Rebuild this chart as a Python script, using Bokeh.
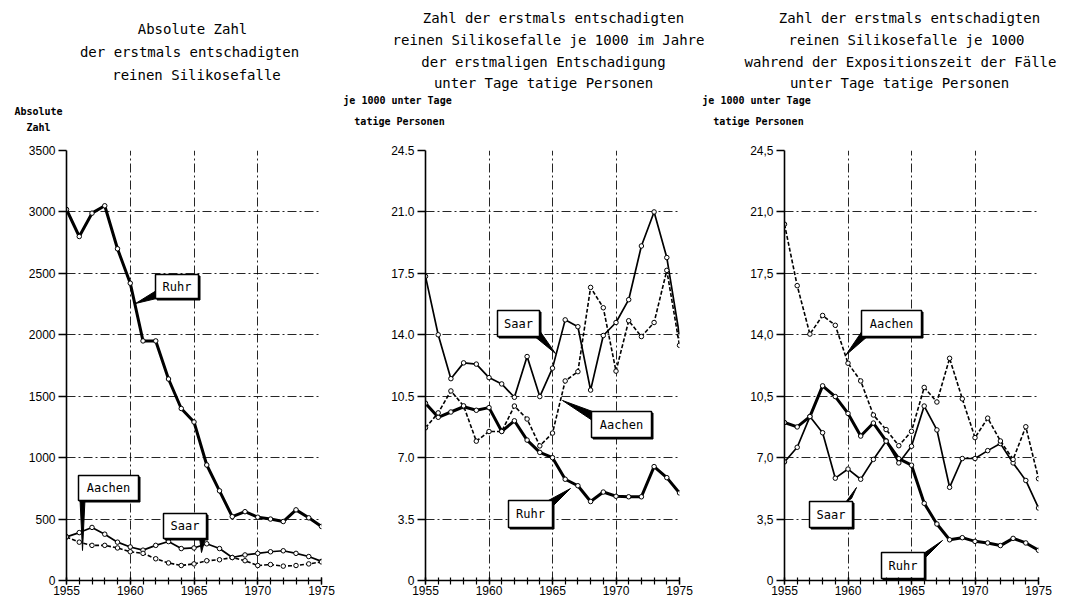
from bokeh.plotting import figure
from bokeh.models import Range1d, FixedTicker
from bokeh.layouts import row, column
from bokeh.embed import file_html
from bokeh.resources import INLINE
from bokeh.core.properties import value

# ---------------- data ----------------
years = list(range(1955, 1976))
x_major = [1955, 1960, 1965, 1970, 1975]

abs_ticks = [0, 500, 1000, 1500, 2000, 2500, 3000, 3500]
abs_tick_labels = ["0", "500", "1000", "1500", "2000", "2500", "3000", "3500"]
rate_ticks = [0, 3.5, 7.0, 10.5, 14.0, 17.5, 21.0, 24.5]
rate_tick_labels_dot = ["0", "3.5", "7.0", "10.5", "14.0", "17.5", "21.0", "24.5"]
rate_tick_labels_comma = ["0", "3,5", "7,0", "10,5", "14,0", "17,5", "21,0", "24,5"]

# Panel 1: absolute number of first-compensated pure silicosis cases
abs_ruhr = [3020, 2800, 2990, 3050, 2700, 2420, 1950, 1950, 1640, 1400, 1290,
            940, 730, 520, 560, 515, 500, 480, 575, 510, 440]
abs_saar = [355, 390, 432, 377, 312, 273, 247, 286, 317, 260, 265,
            299, 260, 187, 208, 221, 234, 242, 221, 195, 156]
abs_aachen = [355, 312, 286, 286, 265, 234, 221, 177, 143, 122, 135,
              161, 169, 187, 161, 122, 130, 117, 122, 135, 151]

# Panel 2: per 1000 underground workers in year of first compensation
rate_ruhr = [10.1, 9.3, 9.6, 9.9, 9.7, 9.85, 8.5, 9.1, 8.0, 7.3, 7.0,
             5.77, 5.4, 4.5, 5.04, 4.8, 4.77, 4.77, 6.49, 5.86, 4.99]
rate_saar = [17.33, 14.0, 11.5, 12.4, 12.33, 11.56, 11.2, 10.44, 12.76, 10.48, 12.1,
             14.85, 14.46, 10.85, 13.96, 14.7, 16.0, 19.06, 21.0, 18.4, 13.96]
rate_aachen = [8.7, 9.55, 10.8, 9.95, 7.94, 8.49, 8.49, 9.94, 9.2, 7.67, 8.4,
               11.37, 11.9, 16.7, 15.54, 11.93, 14.8, 13.9, 14.7, 17.67, 13.4]

# Panel 3: per 1000 underground workers during exposure time
exp_ruhr = [9.0, 8.75, 9.34, 11.09, 10.48, 9.52, 8.23, 8.97, 7.96, 6.94, 6.57,
            4.4, 3.22, 2.32, 2.44, 2.23, 2.14, 1.99, 2.4, 2.14, 1.72]
exp_saar = [6.76, 7.59, 9.34, 8.42, 5.83, 6.35, 5.77, 6.9, 7.94, 6.7, 7.65,
            9.94, 8.58, 5.31, 6.95, 6.95, 7.4, 7.8, 6.7, 5.7, 4.13]
exp_aachen = [20.3, 16.8, 14.04, 15.1, 14.54, 12.38, 11.37, 9.43, 8.6, 7.68, 8.5,
              11.0, 10.17, 12.66, 10.35, 8.14, 9.25, 7.95, 6.9, 8.76, 5.8]

series_names = ["Ruhr", "Saar", "Aachen"]

titles_1 = ["Absolute Zahl", "der erstmals entschadigten", "reinen Silikosefalle"]
titles_2 = ["Zahl der erstmals entschadigten", "reinen Silikosefalle je 1000 im Jahre",
            "der erstmaligen Entschadigung", "unter Tage tatige Personen"]
titles_3 = ["Zahl der erstmals entschadigten", "reinen Silikosefalle je 1000",
            "wahrend der Expositionszeit der Fälle", "unter Tage tatige Personen"]
unit_1 = ["Absolute", "Zahl"]
unit_23 = ["je 1000 unter Tage", "tatige Personen"]

# ---------------- styling / layout ----------------
STYLE = {
    "Ruhr": dict(line_width=3.0, line_dash="solid"),
    "Saar": dict(line_width=1.7, line_dash="solid"),
    "Aachen": dict(line_width=1.6, line_dash="4 2"),
}
MONO = "DejaVu Sans Mono"
SANS = "Liberation Sans"
TOTAL_W = 1058
HEAD_H = 140
PANEL_H = 459
BORDER_TOP = 10
BORDER_BOTTOM = 19

# ---------------- header (titles and unit captions) ----------------
head = figure(width=TOTAL_W, height=HEAD_H, output_backend="svg", toolbar_location=None,
              x_range=Range1d(0, TOTAL_W), y_range=Range1d(HEAD_H, 0),
              x_axis_type=None, y_axis_type=None,
              min_border_left=0, min_border_right=0, min_border_top=0, min_border_bottom=0)
head.outline_line_color = None
head.grid.visible = False

title_blocks = [
    (titles_1, [192, 189, 196], [28, 51, 74]),
    (titles_2, [553, 548, 543, 543], [17, 39, 61, 82]),
    (titles_3, [909, 906, 900, 899], [17, 39, 61, 82]),
]
for lines, xs, ys in title_blocks:
    head.text(x=xs, y=ys, text=lines, text_font=value(MONO), text_font_size="14px",
              text_color="black", text_align="center", text_baseline="middle")

unit_blocks = [
    (unit_1, [38, 38], [111, 127]),
    (unit_23, [397, 399], [100, 121]),
    (unit_23, [756, 758], [100, 121]),
]
for lines, xs, ys in unit_blocks:
    head.text(x=xs, y=ys, text=lines, text_font=value(MONO), text_font_size="10px",
              text_font_style="bold", text_color="black", text_align="center",
              text_baseline="middle")


def make_panel(fig_left, width, bl, frame_w, ymax, yticks, ylabels, series, callouts):
    br = width - bl - frame_w
    p = figure(width=width, height=PANEL_H, output_backend="svg", toolbar_location=None,
               x_range=Range1d(1955, 1975), y_range=Range1d(0, ymax),
               min_border_left=bl, min_border_right=br,
               min_border_top=BORDER_TOP, min_border_bottom=BORDER_BOTTOM)
    p.outline_line_color = None

    # picture-pixel -> data conversion for the callout boxes
    L = fig_left + bl
    R = L + frame_w
    T = HEAD_H + BORDER_TOP
    B = HEAD_H + PANEL_H - BORDER_BOTTOM

    def dx(xi):
        return 1955 + (xi - L) / (R - L) * 20.0

    def dy(yi):
        return (B - yi) / (B - T) * ymax

    p.xaxis.ticker = FixedTicker(ticks=x_major, minor_ticks=years)
    p.yaxis.ticker = FixedTicker(ticks=yticks)
    p.yaxis.major_label_overrides = {t: l for t, l in zip(yticks, ylabels)}
    for ax in (p.xaxis[0], p.yaxis[0]):
        ax.axis_line_color = "black"
        ax.axis_line_width = 1.6
        ax.major_tick_line_color = "black"
        ax.major_tick_line_width = 1.4
        ax.minor_tick_line_color = "black"
        ax.minor_tick_line_width = 1.2
        ax.major_label_text_color = "black"
        ax.major_label_text_font = SANS
        ax.major_label_text_font_size = "12px"
    p.xaxis.major_tick_in = 3
    p.xaxis.major_tick_out = 4
    p.xaxis.minor_tick_in = 3
    p.xaxis.minor_tick_out = 4
    p.xaxis.major_label_standoff = 1
    p.yaxis.major_tick_in = 0
    p.yaxis.major_tick_out = 8
    p.yaxis.minor_tick_line_color = None
    p.yaxis.major_label_standoff = 3

    for g in (p.xgrid[0], p.ygrid[0]):
        g.grid_line_color = "black"
        g.grid_line_width = 1
        g.grid_line_dash = "9 3 2 3"
        g.grid_line_alpha = 0.85
    p.xgrid.ticker = FixedTicker(ticks=x_major)

    for name in series_names:
        vals = series[name]
        st = STYLE[name]
        p.line(years, vals, line_color="black", line_width=st["line_width"],
               line_dash=st["line_dash"])
        p.scatter(years, vals, size=4.5, fill_color="white", line_color="black",
                  line_width=1)

    for name, box, tail in callouts:
        x0, y0, x1, y1 = box
        p.patch([dx(a) for a, b in tail], [dy(b) for a, b in tail],
                fill_color="black", line_color="black", line_width=1)
        p.quad(left=[dx(x0 + 1.5)], right=[dx(x1 + 1.5)], top=[dy(y0 + 1.5)],
               bottom=[dy(y1 + 1.5)], fill_color="black", line_color="black")
        p.quad(left=[dx(x0)], right=[dx(x1)], top=[dy(y0)], bottom=[dy(y1)],
               fill_color="white", line_color="black", line_width=1.5)
        p.text(x=[dx((x0 + x1) / 2)], y=[dy((y0 + y1) / 2)], text=[name],
               text_font=value(MONO), text_font_size="12px", text_color="black",
               text_align="center", text_baseline="middle")
    return p


p1 = make_panel(
    fig_left=0, width=340, bl=66, frame_w=255, ymax=3500,
    yticks=abs_ticks, ylabels=abs_tick_labels,
    series={"Ruhr": abs_ruhr, "Saar": abs_saar, "Aachen": abs_aachen},
    callouts=[
        ("Ruhr", (155, 274, 198, 298), [(156, 290), (156, 298), (135, 303)]),
        ("Aachen", (78, 475, 138, 500), [(79.5, 499), (84.5, 499), (82, 550)]),
        ("Saar", (163, 513, 206, 538), [(199, 537), (205, 537), (201, 552)]),
    ])

p2 = make_panel(
    fig_left=340, width=360, bl=85, frame_w=254, ymax=24.5,
    yticks=rate_ticks, ylabels=rate_tick_labels_dot,
    series={"Ruhr": rate_ruhr, "Saar": rate_saar, "Aachen": rate_aachen},
    callouts=[
        ("Saar", (497, 310, 539, 336), [(533, 335), (539, 330), (555, 353)]),
        ("Aachen", (591, 411, 651, 437), [(592, 411), (592, 420), (562, 400)]),
        ("Ruhr", (508, 500, 552, 527), [(546, 501), (551, 507), (570, 488)]),
    ])

p3 = make_panel(
    fig_left=700, width=358, bl=84, frame_w=254, ymax=24.5,
    yticks=rate_ticks, ylabels=rate_tick_labels_comma,
    series={"Ruhr": exp_ruhr, "Saar": exp_saar, "Aachen": exp_aachen},
    callouts=[
        ("Aachen", (861, 310, 921, 336), [(862, 330), (868, 335), (845, 355)]),
        ("Saar", (809, 501, 852, 527), [(845, 502), (851, 498), (856, 487)]),
        ("Ruhr", (881, 552, 924, 578), [(923, 553), (923, 559), (942, 540)]),
    ])

layout = column(head, row(p1, p2, p3))
open("out.html", "w").write(file_html(layout, INLINE))
